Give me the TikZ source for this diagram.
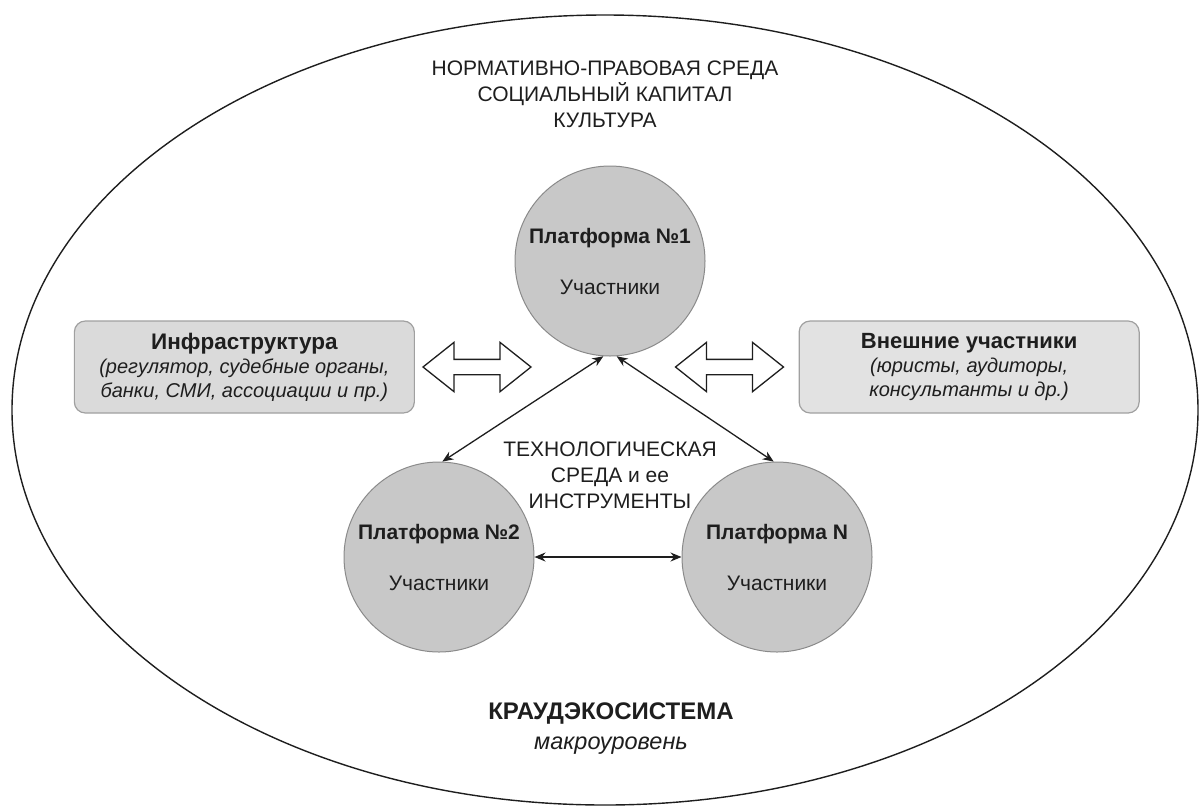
\documentclass[tikz,border=0pt]{standalone}
\usepackage{fontspec}
\setmainfont{Liberation Sans}
\definecolor{PlatformGray}{HTML}{C8C8C8}
\definecolor{RimGray}{HTML}{8A8A8A}
\definecolor{BoxFillL}{HTML}{DADADA}
\definecolor{BoxFillR}{HTML}{E2E2E2}
\definecolor{BoxRim}{HTML}{A0A0A0}
\definecolor{InkGray}{HTML}{1E1E1E}
\usetikzlibrary{shapes.geometric, shapes.arrows, arrows.meta, positioning}
\tikzset{
  % Shape styles
  ecosystem/.style={ellipse, draw=InkGray, line width=1.4pt, minimum width=1186pt, minimum height=790pt},
  platformnode/.style={circle, draw=RimGray, line width=1pt, fill=PlatformGray, minimum size=190pt, inner sep=0pt, align=center, text=InkGray, font=\fontsize{21}{25}\selectfont},
  actorbox/.style={rectangle, rounded corners=11pt, draw=BoxRim, line width=1.2pt, minimum width=340pt, minimum height=92pt, align=center, text=InkGray, font=\fontsize{20}{24}\selectfont},
  % Arrow styles
  linkarrow/.style={<->, >={Stealth[length=11pt, width=9pt]}, line width=1.3pt, InkGray},
  swaparrow/.style={double arrow, draw=InkGray, fill=white, line width=1.3pt, minimum height=108pt, inner xsep=0pt, inner ysep=7pt, double arrow head extend=17pt, double arrow tip angle=77},
  % Text styles
  labeltext/.style={align=center, text=InkGray, font=\fontsize{21}{26}\selectfont}
}
\begin{document}
\begin{tikzpicture}[x=1pt, y=-1pt]
  \useasboundingbox (0,0) rectangle (1199,807);
  % Macro-level ecosystem
  \node[ecosystem] (eco) at (605,410) {};

  \node[labeltext] (env) at (605,94) {НОРМАТИВНО-ПРАВОВАЯ СРЕДА\\СОЦИАЛЬНЫЙ КАПИТАЛ\\КУЛЬТУРА};

  % Platforms
  \node[platformnode] (p1) at (610,261) {\textbf{Платформа №1}\\[26pt]Участники};
  \node[platformnode] (p2) at (439,557) {\textbf{Платформа №2}\\[26pt]Участники};
  \node[platformnode] (pN) at (777,557) {\textbf{Платформа N}\\[26pt]Участники};

  \node[labeltext] (tech) at (610,475) {ТЕХНОЛОГИЧЕСКАЯ\\СРЕДА и ее\\ИНСТРУМЕНТЫ};

  % Outer participants
  \node[swaparrow] (xleft) at (477,367) {};
  \node[swaparrow] (xright) at (729.5,367) {};

  \node[actorbox, fill=BoxFillL, left=7pt of xleft] (infra) {{\bfseries\fontsize{22.5}{26}\selectfont Инфраструктура}\\\textit{(регулятор, судебные органы,}\\\textit{банки, СМИ, ассоциации и пр.)}};
  \node[actorbox, fill=BoxFillR, right=14pt of xright] (extern) {{\bfseries\fontsize{22}{26}\selectfont Внешние участники}\\\textit{(юристы, аудиторы,}\\\textit{консультанты и др.)}};

  \node[labeltext, font=\fontsize{24}{28}\selectfont\bfseries] (title) at (611,713) {КРАУДЭКОСИСТЕМА};
  \node[labeltext, font=\fontsize{23.5}{27}\selectfont\itshape] (level) at (611,746) {макроуровень};

  % Arrows
  \draw[linkarrow] (p1.-94) -- (p2.88);
  \draw[linkarrow] (p1.-86) -- (pN.92);
  \draw[linkarrow] (p2) -- (pN);
\end{tikzpicture}
\end{document}
